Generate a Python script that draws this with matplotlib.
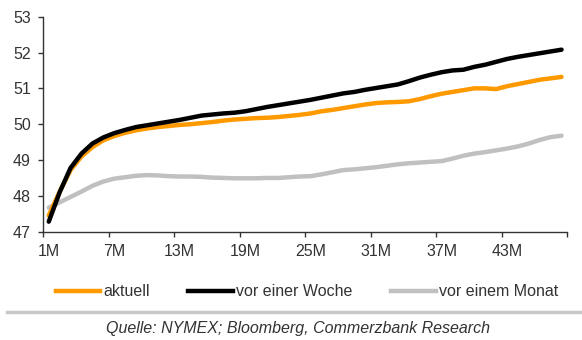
import matplotlib
matplotlib.use("Agg")
import matplotlib.pyplot as plt
from matplotlib.lines import Line2D

plt.rcParams['font.family'] = ['Liberation Sans', 'DejaVu Sans']

months = list(range(1, 49))
aktuell = [47.45, 48.12, 48.72, 49.10, 49.36, 49.55, 49.67, 49.76, 49.83, 49.88,
           49.92, 49.95, 49.98, 50.00, 50.03, 50.06, 50.10, 50.13, 50.15, 50.17,
           50.18, 50.20, 50.23, 50.26, 50.30, 50.36, 50.40, 50.45, 50.50, 50.55,
           50.59, 50.61, 50.62, 50.64, 50.70, 50.78, 50.85, 50.90, 50.95, 51.00,
           51.00, 50.98, 51.06, 51.12, 51.18, 51.24, 51.28, 51.32]
vor_woche = [47.28, 48.10, 48.78, 49.18, 49.46, 49.63, 49.75, 49.84, 49.92, 49.97,
             50.02, 50.07, 50.12, 50.18, 50.24, 50.27, 50.30, 50.32, 50.36, 50.42,
             50.48, 50.53, 50.58, 50.63, 50.68, 50.74, 50.80, 50.86, 50.90, 50.96,
             51.01, 51.06, 51.11, 51.20, 51.30, 51.38, 51.45, 51.50, 51.52, 51.60,
             51.66, 51.74, 51.82, 51.88, 51.93, 51.98, 52.03, 52.08]
vor_monat = [47.67, 47.82, 47.97, 48.12, 48.28, 48.40, 48.48, 48.52, 48.56, 48.58,
             48.57, 48.55, 48.54, 48.54, 48.53, 48.51, 48.50, 48.49, 48.49, 48.49,
             48.50, 48.50, 48.52, 48.54, 48.55, 48.60, 48.66, 48.72, 48.74, 48.77,
             48.80, 48.84, 48.88, 48.91, 48.93, 48.95, 48.97, 49.04, 49.12, 49.18,
             49.22, 49.27, 49.32, 49.38, 49.46, 49.56, 49.64, 49.68]

x_label_pos = [1, 7, 13, 19, 25, 31, 37, 43]
x_labels = ['1M', '7M', '13M', '19M', '25M', '31M', '37M', '43M']
x_tick_marks = [0.5, 6.5, 12.5, 18.5, 24.5, 30.5, 36.5, 42.5, 48.5]
y_ticks = [47, 48, 49, 50, 51, 52, 53]

series_names = ['aktuell', 'vor einer Woche', 'vor einem Monat']
colors = ['#FF9900', '#000000', '#C0C0C0']

W, H = 582, 340
fig = plt.figure(figsize=(W / 100, H / 100), dpi=100)
ax = fig.add_axes([43.3 / W, 1 - 231.7 / H, (567 - 43.3) / W, (231.7 - 16.7) / H])

lw = 3.2
ax.plot(months, vor_monat, color=colors[2], lw=lw, solid_capstyle='round',
        solid_joinstyle='round', zorder=2)
ax.plot(months, aktuell, color=colors[0], lw=lw, solid_capstyle='round',
        solid_joinstyle='round', zorder=3)
ax.plot(months, vor_woche, color=colors[1], lw=lw, solid_capstyle='round',
        solid_joinstyle='round', zorder=4)

ax.set_xlim(0.5, 48.5)
ax.set_ylim(47, 53)
ax.set_xticks(x_label_pos)
ax.set_xticklabels(x_labels)
ax.set_xticks(x_tick_marks, minor=True)
ax.set_yticks(y_ticks)
for s in ['top', 'right']:
    ax.spines[s].set_visible(False)
for s in ['left', 'bottom']:
    ax.spines[s].set_color('#333333')
    ax.spines[s].set_linewidth(1.0)
ax.tick_params(axis='x', which='major', length=0, pad=9, labelsize=11.5, labelcolor='#333333')
ax.tick_params(axis='x', which='minor', direction='out', length=3.5, width=1.0, color='#333333')
ax.tick_params(axis='y', direction='out', length=3.5, width=1.0, color='#333333',
               pad=5.5, labelsize=11.5, labelcolor='#333333')

handles = [Line2D([], [], color=c, lw=3.2) for c in colors]
fig.legend(handles, series_names, loc='center', bbox_to_anchor=(307 / W, 1 - 292 / H),
           ncol=3, frameon=False, fontsize=11.5, handlelength=2.8, handletextpad=0.2,
           columnspacing=2.4, labelcolor='#333333')

fig.add_artist(Line2D([7 / W, 1.0], [1 - 312 / H, 1 - 312 / H], color='#C8C8C8', lw=2.5))
fig.text(298 / W, 1 - 329 / H, 'Quelle: NYMEX; Bloomberg, Commerzbank Research',
         ha='center', va='center', style='italic', fontsize=11.5, color='#333333')

fig.savefig('out.png', dpi=100)
